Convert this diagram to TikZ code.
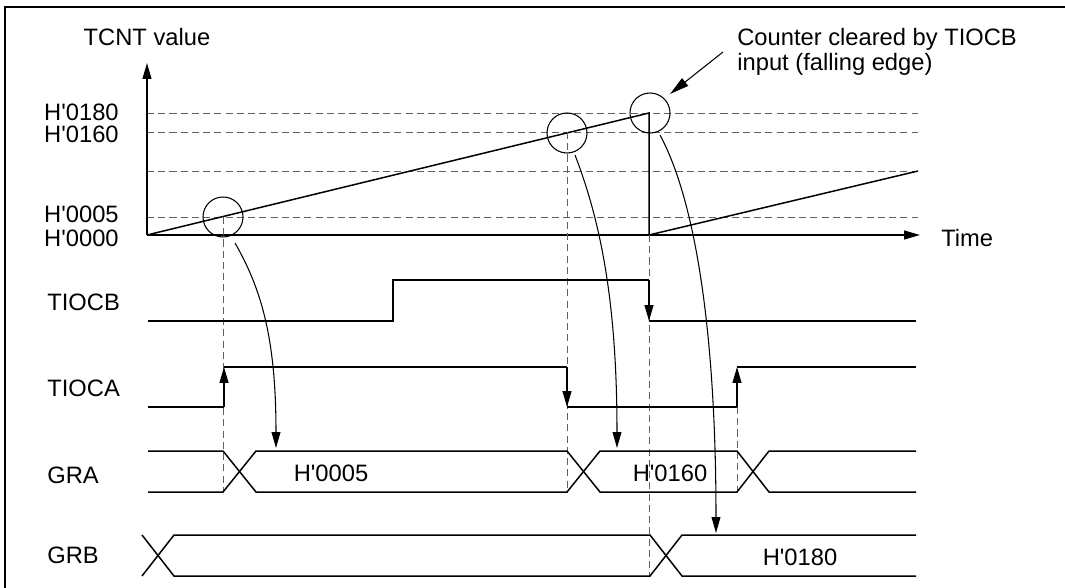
\documentclass[tikz,border=0pt]{standalone}
\usepackage{fontspec}
\setmainfont{Liberation Sans}
\usetikzlibrary{arrows.meta}
\newcommand{\hval}[1]{H\textquotesingle#1}
\tikzset{
  sig/.style={line width=0.85pt},
  guide/.style={gray!75!black, line width=0.5pt, dash pattern=on 4pt off 2.4pt},
  tip/.style={-{Triangle[length=9pt,width=5pt]}},
  lbl/.style={anchor=west, inner sep=0pt},
}
\begin{document}
\begin{tikzpicture}[x=0.02cm, y=-0.02cm, font=\fontsize{13.5}{14}\selectfont]
  \useasboundingbox (0,0) rectangle (1065,588);
  \draw[line width=1.4pt] (5,588) -- (5,7) -- (1065,7);

  % counter axes
  \coordinate (O) at (147,235);
  \coordinate (Ytop) at (147,63);
  \coordinate (Xend) at (920,235);
  \coordinate (P5) at (223,217);
  \coordinate (P160) at (567,132);
  \coordinate (Pk) at (649,113);
  \coordinate (Pz) at (649,235);
  \coordinate (Pe) at (918,171);

  \foreach \y in {113,132,171,217}
    \draw[guide] (147,\y) -- (918,\y);
  \draw[sig, tip] (O) -- (Ytop);
  \draw[sig, tip] (O) -- (Xend);
  \draw[sig] (O) -- (Pk) -- (Pz) -- (Pe);

  \node at (147,37) {TCNT value};
  \node[anchor=east, inner sep=0pt] at (119,112) {\hval{0180}};
  \node[anchor=east, inner sep=0pt] at (119,134) {\hval{0160}};
  \node[anchor=east, inner sep=0pt] at (119,214) {\hval{0005}};
  \node[anchor=east, inner sep=0pt] at (119,238) {\hval{0000}};
  \node[lbl] at (941,238) {Time};

  % capture points
  \draw[line width=0.6pt] (223,217) circle[radius=20];
  \draw[line width=0.6pt] (567,133) circle[radius=20];
  \draw[line width=0.6pt] (650,113) circle[radius=20];
  \node[anchor=west, align=left, inner sep=0pt] (note) at (737,52)
    {Counter cleared by TIOCB\\input (falling edge)};
  \coordinate (n0) at (723,52);
  \coordinate (n1) at (670,94);
  \draw[line width=0.6pt, -{Triangle[length=11pt,width=5.5pt]}] (n0) -- (n1);

  % vertical guides
  \draw[guide] (P5) -- (223,492);
  \draw[guide] (P160) -- (567,492);
  \draw[guide] (Pz) -- (649,576);
  \draw[guide] (737,407) -- (737,492);

  % signal names
  \node[lbl] at (47,302) {TIOCB};
  \node[lbl] at (47,388) {TIOCA};
  \node[lbl] at (47,475) {GRA};
  \node[lbl] at (47,555) {GRB};

  % TIOCB
  \draw[sig] (148,321) -- (393,321) -- (393,280) -- (649,280);
  \draw[sig, tip] (649,280) -- (649,321);
  \draw[sig] (649,321) -- (916,321);

  % TIOCA
  \draw[sig] (148,407) -- (224,407);
  \draw[sig, tip] (224,407) -- (224,367);
  \draw[sig] (224,367) -- (567,367);
  \draw[sig, tip] (567,367) -- (567,407);
  \draw[sig] (567,407) -- (737,407);
  \draw[sig, tip] (737,407) -- (737,367);
  \draw[sig] (737,367) -- (916,367);

  % GRA
  \draw[sig] (148,451) -- (223,451) -- (256,492) -- (567,492) -- (600,451)
    -- (737,451) -- (769,492) -- (916,492);
  \draw[sig] (148,492) -- (223,492) -- (256,451) -- (567,451) -- (600,492)
    -- (737,492) -- (769,451) -- (916,451);
  \node (gra1) at (331,473) {\hval{0005}};
  \node (gra2) at (670,473) {\hval{0160}};

  % GRB
  \draw[sig] (142,535) -- (174,576) -- (650,576) -- (682,535) -- (916,535);
  \draw[sig] (142,576) -- (174,535) -- (650,535) -- (682,576) -- (916,576);
  \node (grb1) at (800,557) {\hval{0180}};

  % transfers
  \draw[line width=0.6pt, tip] (235,243) .. controls (262,290) and (276,340) .. (276,448);
  \draw[line width=0.6pt, tip] (575,155) .. controls (600,220) and (617,300) .. (617,448);
  \draw[line width=0.6pt, tip] (660,135) .. controls (695,200) and (716,330) .. (716,533);
\end{tikzpicture}
\end{document}
